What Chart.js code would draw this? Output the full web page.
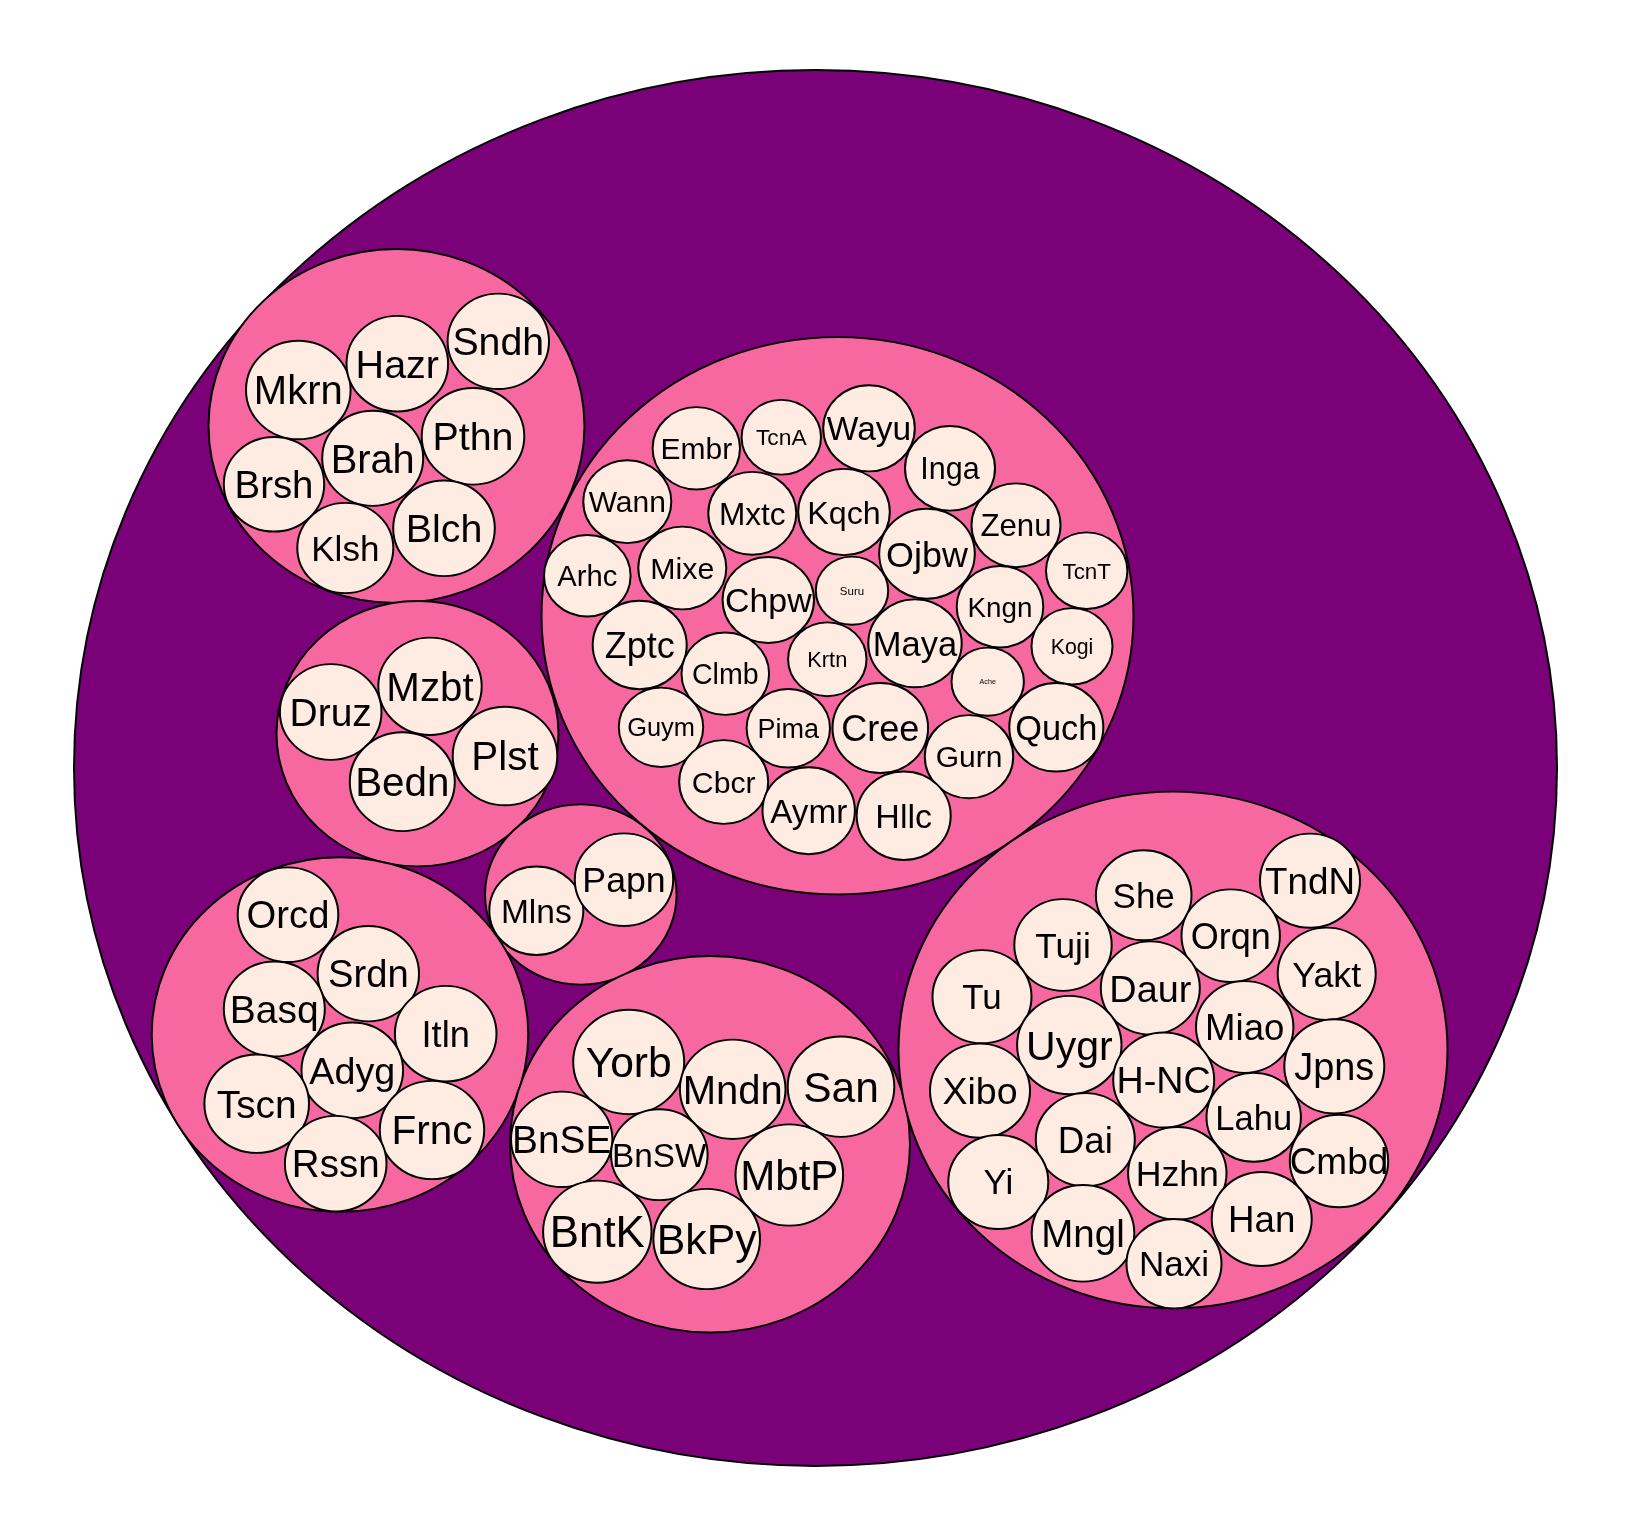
<!DOCTYPE html>
<html>
<head>
<meta charset="utf-8">
<title>Circle packing</title>
<script src="https://cdn.jsdelivr.net/npm/chart.js"></script>
<style>
  html, body { margin: 0; padding: 0; background: #ffffff; }
  #wrap { width: 1632px; height: 1536px; position: relative; }
</style>
</head>
<body>
<div id="wrap"><canvas id="myChart"></canvas></div>
<script>
// outer circle (all languages)
var outerX = [815.5];
var outerY = [768];
var outerSize = [741.5];

// the 7 family circles
var groupX = [396.5, 417.5, 580.8, 837.5, 340, 710, 1173];
var groupY = [426, 733.7, 894.5, 615.7, 1034.5, 1144.3, 1050];
var groupSize = [188, 141, 95.8, 296, 188.3, 200, 274.5];

// leaf circles (languages)
var leafNames = [
  "Mkrn", "Hazr", "Sndh", "Pthn", "Brah", "Brsh", "Klsh", "Blch",
  "Druz", "Mzbt", "Plst", "Bedn",
  "Mlns", "Papn",
  "Orcd", "Srdn", "Basq", "Itln", "Adyg", "Tscn", "Frnc", "Rssn",
  "Yorb", "Mndn", "San", "BnSE", "BnSW", "MbtP", "BntK", "BkPy",
  "Embr", "TcnA", "Wayu", "Inga", "Wann", "Mxtc", "Kqch", "Zenu", "Ojbw", "TcnT",
  "Arhc", "Mixe", "Chpw", "Suru", "Kngn", "Zptc", "Krtn", "Maya", "Kogi", "Clmb",
  "Ache", "Guym", "Pima", "Cree", "Gurn", "Quch", "Cbcr", "Aymr", "Hllc",
  "She", "TndN", "Tuji", "Orqn", "Yakt", "Tu", "Daur", "Miao", "Uygr", "Jpns",
  "H-NC", "Xibo", "Lahu", "Dai", "Cmbd", "Yi", "Hzhn", "Han", "Mngl", "Naxi"
];
var leafX = [
  298.3, 397.3, 498.3, 473, 372.7, 274, 345.3, 444,
  330.7, 430, 505, 402.3,
  536.3, 624,
  288, 368.3, 274.3, 445.7, 352.3, 256.7, 432, 335.7,
  628.7, 732.7, 841, 561.7, 659.3, 789.3, 597.3, 706.7,
  696.3, 781.3, 869, 950, 627.3, 752.3, 844, 1016, 927, 1086.7,
  587.3, 682.3, 768.3, 852, 1000, 639.7, 827.3, 915, 1072, 725.3,
  987.7, 661, 788.3, 880.3, 969, 1056.3, 723.7, 808.7, 903.7,
  1143.7, 1310, 1063, 1230.7, 1326.7, 982, 1150.3, 1244.7, 1069.3, 1334.3,
  1163.7, 980, 1253.7, 1085.3, 1339, 998.3, 1177.3, 1261.7, 1083, 1174
];
var leafY = [
  390, 363.7, 341.3, 436.3, 458.3, 484.3, 548, 528.3,
  712, 686.3, 756, 781.7,
  910.7, 879.7,
  914.7, 973.7, 1009, 1033.7, 1070.3, 1103.7, 1130, 1163.7,
  1062, 1089.3, 1086.7, 1139.3, 1154.7, 1175, 1231.7, 1239,
  448.3, 437.3, 428.3, 468.3, 501.7, 513.3, 512, 525.3, 553.7, 570.7,
  575.7, 568, 600, 590.7, 606.7, 645, 659.3, 643.3, 646.3, 673.7,
  681.7, 727.3, 728.3, 728, 756.7, 727.3, 782, 810.7, 815.7,
  895.3, 880.7, 945, 935.7, 973.7, 996.7, 988, 1027, 1045, 1066.3,
  1080, 1090.7, 1117.3, 1139.7, 1161, 1182, 1173.3, 1219, 1233.3, 1263.7
];
var leafSize = [
  52.3, 50.8, 50.7, 51.3, 50.5, 50.2, 48, 50.8,
  50.8, 51.7, 52.3, 52.5,
  47, 49.2,
  50.3, 50.7, 50.5, 50.8, 50.8, 52.3, 52.2, 50.8,
  55.5, 52.8, 53.3, 50.7, 48.3, 53.8, 54.2, 53.3,
  43.7, 39.7, 45.8, 45, 44, 44, 45.8, 44.5, 47.8, 40.7,
  43.3, 44, 45.7, 36.2, 43.3, 47, 39.2, 46.7, 40.5, 43.8,
  36.2, 42.2, 41.7, 47.8, 44.2, 47, 44.5, 46.2, 47,
  47.8, 50, 48.7, 49.2, 49, 49.5, 49.5, 48.7, 52.2, 50,
  50.5, 50, 47.2, 49.5, 49.2, 50, 49.2, 50, 51.3, 47.5
];

// label font size per leaf (px)
var labelPx = [
  40, 39.5, 39.3, 39.4, 39.8, 38.4, 35, 39.4,
  39, 40.3, 40.4, 40.3,
  33.5, 35.7,
  38.2, 38.2, 39, 36.2, 37.7, 38.9, 40.5, 38.5,
  42.6, 40, 42.5, 38.8, 33.3, 42.1, 43.8, 42.8,
  30, 22.8, 33.5, 30.5, 30, 31.6, 32.2, 31.2, 35.9, 22.4,
  29.2, 30.3, 33.9, 11.5, 27.8, 36, 21.8, 34.5, 21.3, 28.6,
  7.2, 25.4, 27, 36.1, 30, 34.4, 30.2, 33.3, 34,
  35, 36.8, 35.2, 36, 35.8, 34.9, 37.8, 36.6, 41, 37.9,
  37.7, 37.5, 34.5, 36.7, 37, 34.9, 35.7, 36.7, 38.5, 35
];

// circles come out slightly flattened in the picture (height / width)
var SQUASH = 0.9413;

function toPoints(xs, ys, sizes) {
  return xs.map(function (x, i) {
    return { x: x, y: ys[i], size: sizes[i] };
  });
}

// radius in pixels taken from the x scale, so it follows the data units
function radiusPx(ctx) {
  if (!ctx.raw) return 0;
  var s = ctx.chart.scales.x;
  return Math.abs(s.getPixelForValue(ctx.raw.size) - s.getPixelForValue(0));
}

// squeeze the drawing vertically, then write the labels upright on top
var squashPlugin = {
  id: 'squash',
  beforeDatasetsDraw: function (chart) {
    var c = chart.ctx, top = chart.chartArea.top;
    c.save();
    c.translate(0, top);
    c.scale(1, SQUASH);
    c.translate(0, -top);
  },
  afterDatasetsDraw: function (chart) {
    var c = chart.ctx, top = chart.chartArea.top;
    c.restore();
    var meta = chart.getDatasetMeta(2);
    c.save();
    c.fillStyle = '#000000';
    c.textAlign = 'center';
    c.textBaseline = 'alphabetic';
    meta.data.forEach(function (el, i) {
      var fs = labelPx[i];
      c.font = fs + 'px "Liberation Sans", Arial, sans-serif';
      var y = top + SQUASH * (el.y - top);
      c.fillText(leafNames[i], el.x, y + 0.358 * fs);
    });
    c.restore();
  }
};

// shared look of the three circle levels
function level(label, points, fill, order) {
  return {
    label: label,
    data: points,
    parsing: false, // keeps the bubble from reading an "r" key, radius comes from radiusPx
    backgroundColor: fill,
    borderColor: '#000000',
    borderWidth: 2,
    radius: radiusPx,
    clip: false,
    order: order
  };
}

var ctx = document.getElementById('myChart');

new Chart(ctx, {
  type: 'bubble',
  data: {
    datasets: [
      level('all', toPoints(outerX, outerY, outerSize), '#7a0177', 2),
      level('families', toPoints(groupX, groupY, groupSize), '#f768a1', 1),
      level('languages', toPoints(leafX, leafY, leafSize), '#feebe2', 0)
    ]
  },
  options: {
    responsive: true,
    maintainAspectRatio: false,
    animation: false,
    devicePixelRatio: 1,
    events: [],
    layout: { padding: 0 },
    plugins: {
      legend: { display: false },
      tooltip: { enabled: false }
    },
    scales: {
      x: { type: 'linear', display: false, min: 0, max: 1632 },
      y: { type: 'linear', display: false, reverse: true, min: 0, max: 1536 * SQUASH }
    }
  },
  plugins: [squashPlugin]
});
</script>
</body>
</html>
